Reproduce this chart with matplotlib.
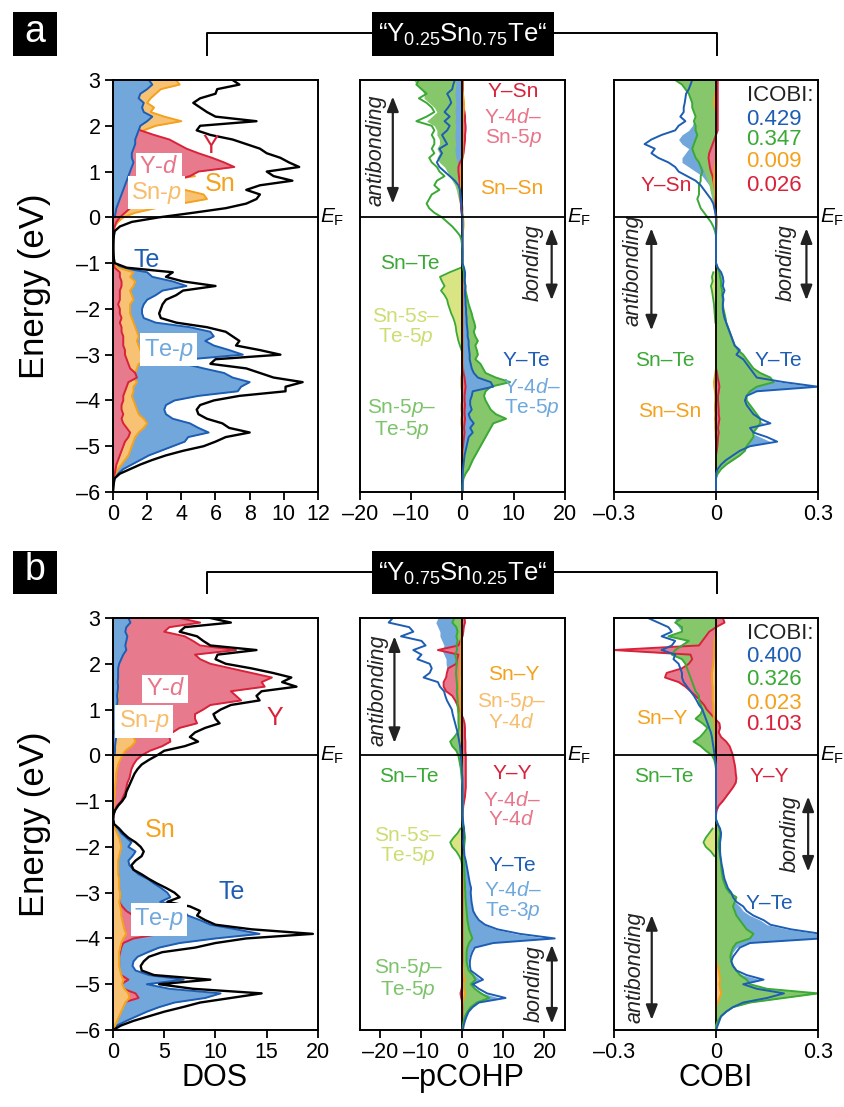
import numpy as np
import matplotlib
matplotlib.use('Agg')
import matplotlib.pyplot as plt
from matplotlib.lines import Line2D
from matplotlib.patches import Rectangle
from matplotlib import font_manager

plt.rcParams['font.family'] = ['Liberation Sans', 'DejaVu Sans']
plt.rcParams['mathtext.fontset'] = 'custom'
plt.rcParams['mathtext.rm'] = 'Liberation Sans'
plt.rcParams['mathtext.it'] = 'Liberation Sans:italic'
plt.rcParams['mathtext.bf'] = 'Liberation Sans:bold'
HAS_NARROW = 'Liberation Sans Narrow' in {f.name for f in font_manager.fontManager.ttflist}
NARROW = ['Liberation Sans Narrow', 'Liberation Sans', 'DejaVu Sans']

# energy grid (eV), 3 ... -6 in 0.1 steps
energy = np.linspace(3.0, -6.0, 91)

# ---------------- a: "Y0.25Sn0.75Te" ----------------
dos_a_total = [
    7.0, 7.4, 6.1, 6.0, 5.1, 4.7, 5.1, 5.5, 6.0, 8.4,
    5.1, 4.9, 5.7, 7.0, 7.8, 8.6, 9.0, 9.8, 10.3, 10.9,
    9.0, 9.4, 10.5, 8.6, 7.8, 8.6, 8.4, 7.8, 6.6, 4.7,
    2.7, 1.1, 0.4, 0.1, 0.05, 0.03, 0.02, 0.02, 0.03, 0.05,
    0.1, 0.8, 3.5, 3.1, 4.1, 6.0, 4.1, 3.7, 3.1, 2.9,
    2.8, 2.7, 2.8, 3.7, 5.5, 6.6, 7.0, 7.4, 7.2, 8.6,
    9.8, 6.0, 5.7, 7.8, 8.6, 9.4, 11.1, 10.1, 10.1, 7.4,
    5.9, 5.1, 4.9, 5.0, 5.5, 6.4, 6.8, 8.0, 6.6, 6.0,
    5.3, 4.1, 3.1, 2.3, 1.6, 1.0, 0.4, 0.1, 0.05, 0.02,
    0.0]
dos_a_te = [
    2.1, 2.3, 2.0, 1.6, 1.5, 1.8, 1.7, 1.8, 2.3, 2.0,
    1.6, 1.5, 1.4, 1.3, 1.3, 1.2, 1.1, 1.1, 1.2, 1.1,
    1.0, 0.9, 0.8, 0.7, 0.6, 0.5, 0.4, 0.3, 0.2, 0.15,
    0.1, 0.05, 0.03, 0.02, 0.02, 0.02, 0.02, 0.02, 0.02, 0.03,
    0.05, 0.5, 2.0, 2.3, 3.5, 4.3, 2.9, 2.5, 2.0, 1.8,
    1.7, 1.7, 1.8, 2.5, 4.5, 5.7, 5.9, 5.4, 5.9, 6.8,
    7.6, 4.5, 4.2, 5.3, 6.5, 7.0, 8.0, 7.5, 7.3, 5.0,
    3.6, 3.1, 3.0, 3.1, 3.5, 4.5, 5.0, 5.6, 4.4, 4.2,
    3.5, 2.8, 2.1, 1.6, 1.1, 0.6, 0.3, 0.1, 0.03, 0.01,
    0.0]
dos_a_sn = [
    3.7, 3.9, 2.8, 2.5, 2.2, 2.0, 2.4, 2.2, 3.0, 4.0,
    2.5, 1.8, 1.5, 1.4, 1.4, 1.5, 1.6, 1.5, 1.6, 1.7,
    2.2, 4.8, 3.0, 3.0, 4.2, 5.3, 5.5, 4.0, 2.5, 1.3,
    0.6, 0.3, 0.1, 0.03, 0.01, 0.01, 0.01, 0.01, 0.01, 0.01,
    0.02, 0.3, 1.2, 1.0, 1.3, 1.2, 1.0, 1.1, 1.2, 1.0,
    1.0, 1.0, 1.1, 1.2, 1.3, 1.4, 1.5, 1.4, 1.5, 1.6,
    1.7, 2.6, 1.5, 1.4, 1.3, 1.2, 1.4, 1.2, 1.2, 1.1,
    1.2, 1.3, 1.4, 1.5, 1.8, 2.0, 1.8, 1.5, 1.3, 1.2,
    1.1, 1.0, 0.9, 0.7, 0.5, 0.3, 0.15, 0.05, 0.02, 0.01,
    0.0]
dos_a_y = [
    1.0, 1.0, 1.0, 1.0, 1.0, 1.0, 1.0, 1.0, 1.0, 1.0,
    1.2, 1.6, 2.4, 3.3, 3.8, 4.3, 5.0, 5.8, 6.5, 7.1,
    5.0, 4.5, 3.5, 2.8, 2.3, 2.0, 1.7, 1.4, 1.0, 0.7,
    0.4, 0.2, 0.1, 0.03, 0.01, 0.01, 0.01, 0.01, 0.01, 0.01,
    0.02, 0.1, 0.4, 0.4, 0.5, 0.5, 0.4, 0.4, 0.4, 0.3,
    0.4, 0.4, 0.5, 0.4, 0.5, 0.5, 0.6, 0.6, 0.6, 0.7,
    0.7, 0.8, 0.9, 1.0, 1.3, 1.4, 0.9, 0.8, 0.7, 0.6,
    0.6, 0.5, 0.5, 0.6, 0.5, 0.6, 0.8, 1.0, 0.9, 0.7,
    0.6, 0.5, 0.4, 0.3, 0.2, 0.15, 0.1, 0.05, 0.02, 0.01,
    0.0]

cohp_a_snte = [
    -8.5, -9.0, -8.0, -7.0, -8.5, -7.0, -6.0, -5.5, -7.0, -9.0,
    -6.0, -5.5, -6.0, -5.5, -5.5, -6.0, -5.5, -6.5, -6.0, -5.0,
    -4.5, -3.5, -5.0, -5.5, -4.5, -6.0, -6.5, -7.0, -6.5, -5.5,
    -4.0, -3.0, -2.0, -1.2, -0.5, -0.2, -0.1, 0.0, 0.0, 0.0,
    0.0, 0.1, 0.3, 0.3, 0.5, 0.5, 0.6, 0.8, 1.0, 1.2,
    1.5, 1.8, 2.0, 2.3, 2.5, 2.2, 2.5, 3.0, 2.5, 2.8,
    3.0, 2.5, 3.5, 4.0, 4.5, 6.5, 9.3, 5.5, 4.5, 4.2,
    4.5, 5.0, 5.5, 6.5, 8.5, 6.0, 5.5, 5.0, 4.5, 4.0,
    3.5, 3.0, 2.5, 2.0, 1.6, 1.2, 0.6, 0.2, 0.05, 0.0,
    0.0]
cohp_a_sn5p = [
    -9.5, -9.0, -8.0, -7.5, -7.5, -6.5, -5.5, -5.0, -6.0, -7.0,
    -5.5, -5.0, -5.0, -4.5, -4.5, -5.0, -4.5, -5.0, -4.5, -3.5,
    -3.0, -2.5, -2.0, -1.5, -1.2, -1.0, -0.8, -0.6, -0.4, -0.2,
    0.0, 0.0, 0.0, 0.0, 0.0, 0.0, 0.0, 0.0, 0.0, 0.0,
    0.0, 0.1, 0.3, 0.3, 0.5, 0.5, 0.6, 0.8, 1.0, 1.2,
    1.5, 1.8, 2.0, 2.3, 2.5, 2.2, 2.5, 3.0, 2.5, 2.8,
    3.0, 2.5, 3.5, 4.0, 4.5, 6.5, 9.0, 5.5, 4.5, 4.2,
    4.5, 5.0, 5.5, 6.5, 8.3, 6.0, 5.5, 5.0, 4.5, 4.0,
    3.5, 3.0, 2.5, 2.0, 1.6, 1.2, 0.6, 0.2, 0.05, 0.0,
    0.0]
cohp_a_sn5s = [
    0, 0, 0, 0, 0, 0, 0, 0, 0, 0,
    0, 0, 0, 0, 0, 0, 0, 0, 0, 0,
    0, 0, 0, 0, 0, 0, 0, 0, 0, 0,
    0, 0, 0, 0, 0, 0, 0, 0, 0, 0,
    0.0, -0.3, -2.5, -4.4, -4.0, -3.5, -4.2, -3.5, -3.0, -2.8,
    -2.5, -2.2, -1.8, -1.5, -1.3, -1.2, -1.0, -0.8, -0.5, -0.2,
    0, 0, 0, 0, 0, 0, 0, 0, 0, 0,
    0, 0, 0, 0, 0, 0, 0, 0, 0, 0,
    0, 0, 0, 0, 0, 0, 0, 0, 0, 0,
    0]
cohp_a_yte = [
    -1.5, -1.8, -2.0, -3.0, -2.5, -2.2, -2.8, -3.5, -2.5, -3.5,
    -2.5, -3.0, -4.0, -3.5, -3.0, -4.5, -4.0, -4.5, -5.0, -4.5,
    -3.5, -2.5, -1.5, -0.8, -0.5, -0.4, -0.3, -0.2, -0.2, -0.1,
    0, 0, 0, 0, 0, 0, 0, 0, 0, 0,
    0.0, 0.3, 0.5, 0.5, 0.4, 0.6, 0.5, 0.5, 0.6, 0.6,
    0.7, 0.7, 0.8, 0.8, 0.9, 1.0, 1.0, 1.2, 1.2, 1.3,
    1.4, 1.4, 1.6, 1.8, 2.2, 3.0, 5.5, 6.0, 2.0, 1.8,
    1.5, 1.5, 1.8, 1.2, 1.5, 2.2, 1.5, 2.0, 1.2, 1.0,
    0.8, 0.6, 0.4, 0.3, 0.2, 0.1, 0.05, 0.0, 0.0, 0.0,
    0.0]
cohp_a_ytefill = [
    -1.3, -1.3, -1.4, -1.5, -1.4, -1.3, -1.4, -1.5, -1.3, -1.5,
    -1.3, -1.4, -1.5, -1.4, -1.3, -1.5, -1.4, -1.3, -1.0, -0.6,
    -0.4, -0.3, -0.2, -0.1, -0.1, -0.1, 0.0, 0.0, 0.0, 0.0,
    0, 0, 0, 0, 0, 0, 0, 0, 0, 0,
    0.0, 0.2, 0.4, 0.4, 0.3, 0.5, 0.4, 0.4, 0.5, 0.5,
    0.6, 0.6, 0.7, 0.7, 0.8, 0.9, 0.9, 1.0, 1.0, 1.1,
    1.2, 1.2, 1.4, 1.6, 2.0, 2.8, 5.2, 5.7, 1.8, 1.6,
    1.3, 1.3, 1.6, 1.0, 1.3, 2.0, 1.3, 1.8, 1.0, 0.8,
    0.6, 0.5, 0.3, 0.2, 0.1, 0.05, 0.0, 0.0, 0.0, 0.0,
    0.0]
cohp_a_ysn = [
    0.1, 0.1, 0.1, 0.1, 0.1, 0.1, 0.2, 0.4, 0.5, 0.5,
    0.6, 0.6, 0.5, 0.5, 0.4, 0.3, 0.2, 0.0, -0.5, -0.8,
    -0.8, -0.7, -0.6, -0.5, -0.5, -0.4, -0.4, -0.3, -0.3, -0.2,
    0, 0, 0, 0, 0, 0, 0, 0, 0, 0,
    0, 0, 0, 0, 0, 0, 0, 0, 0, 0,
    0, 0, 0, 0, 0, 0, 0, 0, 0, 0,
    0.0, 0.0, 0.0, 0.1, 0.2, 0.4, 0.5, 0.6, 0.5, 0.4,
    0.4, 0.5, 0.4, 0.4, 0.5, 0.4, 0.3, 0.4, 0.3, 0.2,
    0.1, 0.05, 0, 0, 0, 0, 0, 0, 0, 0,
    0]
cohp_a_snsn = [
    0.0, 0.0, 0.0, 0.1, 0.2, 0.3, 0.3, 0.2, 0.1, 0.0,
    0, 0, 0, 0, 0, 0, 0, 0, -0.1, -0.2,
    -0.3, -0.3, -0.3, -0.3, -0.2, -0.2, -0.1, -0.1, 0.0, 0.0,
    0.1, 0.2, 0.2, 0.1, 0, 0, 0, 0, 0, 0,
    0, 0, 0, 0, 0, 0, 0, 0, 0, 0,
    0, 0, 0, 0, 0, 0, 0, 0, 0, 0,
    0, 0, 0, 0, -0.1, -0.2, -0.2, -0.2, -0.1, -0.1,
    -0.1, -0.2, -0.2, -0.1, -0.2, -0.2, -0.1, -0.1, -0.1, -0.1,
    -0.1, 0, 0, 0, 0, 0, 0, 0, 0, 0,
    0]

cobi_a_snte = [
    -0.12, -0.10, -0.09, -0.08, -0.075, -0.07, -0.07, -0.065, -0.06, -0.065,
    -0.06, -0.06, -0.055, -0.06, -0.065, -0.07, -0.065, -0.06, -0.05, -0.045,
    -0.04, -0.045, -0.045, -0.05, -0.05, -0.05, -0.055, -0.05, -0.045, -0.035,
    -0.025, -0.015, -0.008, -0.003, 0, 0, 0, 0, 0, 0,
    0.0, 0.005, 0.01, 0.012, 0.015, 0.015, 0.018, 0.018, 0.02, 0.02,
    0.022, 0.025, 0.028, 0.03, 0.035, 0.04, 0.045, 0.05, 0.055, 0.065,
    0.08, 0.09, 0.10, 0.11, 0.13, 0.16, 0.17, 0.12, 0.10, 0.09,
    0.09, 0.10, 0.11, 0.12, 0.13, 0.13, 0.12, 0.11, 0.11, 0.10,
    0.09, 0.085, 0.07, 0.05, 0.03, 0.015, 0.005, 0.0, 0.0, 0.0,
    0.0]
cobi_a_sn5p = [
    -0.12, -0.10, -0.09, -0.08, -0.075, -0.07, -0.07, -0.065, -0.06, -0.065,
    -0.06, -0.06, -0.055, -0.06, -0.065, -0.07, -0.065, -0.06, -0.05, -0.04,
    -0.035, -0.03, -0.025, -0.02, -0.018, -0.015, -0.012, -0.01, -0.008, -0.005,
    0, 0, 0, 0, 0, 0, 0, 0, 0, 0,
    0.0, 0.005, 0.01, 0.012, 0.015, 0.015, 0.018, 0.018, 0.02, 0.02,
    0.022, 0.025, 0.028, 0.03, 0.035, 0.04, 0.045, 0.05, 0.055, 0.065,
    0.08, 0.09, 0.10, 0.11, 0.13, 0.16, 0.17, 0.12, 0.10, 0.09,
    0.09, 0.10, 0.11, 0.12, 0.13, 0.13, 0.12, 0.11, 0.11, 0.10,
    0.09, 0.085, 0.07, 0.05, 0.03, 0.015, 0.005, 0.0, 0.0, 0.0,
    0.0]
cobi_a_sn5s = [
    0, 0, 0, 0, 0, 0, 0, 0, 0, 0,
    0, 0, 0, 0, 0, 0, 0, 0, 0, 0,
    0, 0, 0, 0, 0, 0, 0, 0, 0, 0,
    0, 0, 0, 0, 0, 0, 0, 0, 0, 0,
    0, 0, -0.008, -0.012, -0.01, -0.015, -0.012, -0.01, -0.008, -0.006,
    -0.005, -0.004, -0.003, -0.002, 0, 0, 0, 0, 0, 0,
    0, 0, 0, 0, 0, 0, 0, 0, 0, 0,
    0, 0, 0, 0, 0, 0, 0, 0, 0, 0,
    0, 0, 0, 0, 0, 0, 0, 0, 0, 0,
    0]
cobi_a_yte = [
    -0.07, -0.075, -0.08, -0.088, -0.09, -0.092, -0.095, -0.095, -0.105, -0.09,
    -0.11, -0.12, -0.16, -0.19, -0.21, -0.18, -0.19, -0.17, -0.14, -0.12,
    -0.11, -0.085, -0.06, -0.045, -0.035, -0.025, -0.015, -0.008, -0.005, -0.002,
    0, 0, 0, 0, 0, 0, 0, 0, 0, 0,
    0.0, 0.005, 0.015, 0.02, 0.022, 0.02, 0.025, 0.02, 0.022, 0.02,
    0.02, 0.022, 0.025, 0.03, 0.035, 0.04, 0.045, 0.05, 0.055, 0.07,
    0.06, 0.08, 0.09, 0.10, 0.11, 0.12, 0.20, 0.30, 0.12, 0.09,
    0.085, 0.09, 0.10, 0.11, 0.13, 0.16, 0.10, 0.11, 0.15, 0.18,
    0.10, 0.07, 0.05, 0.03, 0.015, 0.005, 0.0, 0.0, 0.0, 0.0,
    0.0]
cobi_a_ytefill = [
    -0.06, -0.065, -0.07, -0.075, -0.075, -0.07, -0.07, -0.065, -0.06, -0.065,
    -0.07, -0.08, -0.10, -0.11, -0.10, -0.08, -0.09, -0.10, -0.10, -0.08,
    -0.06, -0.04, -0.03, -0.02, -0.015, -0.01, -0.005, 0, 0, 0,
    0, 0, 0, 0, 0, 0, 0, 0, 0, 0,
    0.0, 0.004, 0.012, 0.016, 0.018, 0.016, 0.02, 0.016, 0.018, 0.016,
    0.016, 0.018, 0.02, 0.025, 0.03, 0.034, 0.04, 0.045, 0.05, 0.06,
    0.05, 0.07, 0.08, 0.09, 0.10, 0.11, 0.19, 0.29, 0.11, 0.08,
    0.075, 0.08, 0.09, 0.10, 0.12, 0.14, 0.09, 0.10, 0.13, 0.16,
    0.09, 0.06, 0.04, 0.025, 0.01, 0.004, 0, 0, 0, 0,
    0]
cobi_a_ysn = [
    0.005, 0.005, 0.005, 0.005, 0.005, 0.005, 0.005, 0.005, 0.005, 0.005,
    0.005, 0.005, 0.0, -0.005, -0.01, -0.015, -0.02, -0.022, -0.02, -0.018,
    -0.015, -0.01, -0.008, -0.005, -0.003, -0.003, -0.003, -0.002, -0.002, -0.001,
    0, 0, 0, 0, 0, 0, 0, 0, 0, 0,
    0, 0, 0, 0, 0, 0, 0, 0, 0, 0,
    0, 0, 0, 0, 0, 0, 0, 0, 0, 0,
    0, 0, 0, 0, 0.003, 0.005, 0.008, 0.01, 0.008, 0.006,
    0.006, 0.007, 0.008, 0.008, 0.01, 0.008, 0.006, 0.008, 0.006, 0.005,
    0.004, 0.002, 0, 0, 0, 0, 0, 0, 0, 0,
    0]
cobi_a_snsn = [
    0, 0, 0, -0.003, -0.005, -0.006, -0.004, 0, 0, 0,
    0, 0, 0, 0, 0, 0, 0, 0, -0.002, -0.004,
    -0.005, -0.005, -0.006, -0.005, -0.004, -0.003, -0.002, -0.001, 0, 0,
    0.002, 0.003, 0.002, 0.001, 0, 0, 0, 0, 0, 0,
    0, 0, 0, 0, 0, 0, 0, 0, 0, 0,
    0, 0, 0, 0, 0, 0, 0, 0, 0, 0,
    0, 0, 0, 0, -0.002, -0.004, -0.006, -0.005, -0.003, -0.002,
    -0.002, -0.003, -0.003, -0.002, -0.003, -0.002, -0.002, -0.001, -0.001, 0,
    0, 0, 0, 0, 0, 0, 0, 0, 0, 0,
    0]

# ---------------- b: "Y0.75Sn0.25Te" ----------------
dos_b_total = [
    9.5, 11.5, 7.0, 6.5, 8.2, 8.8, 9.5, 14.0, 10.2, 10.0,
    11.0, 13.5, 15.6, 17.4, 16.5, 17.9, 14.5, 14.0, 14.3, 11.5,
    10.5, 9.8, 10.0, 10.4, 9.0, 8.0, 7.5, 8.3, 7.0, 5.0,
    4.3, 3.5, 2.8, 2.4, 2.1, 1.9, 1.7, 1.5, 1.3, 1.2,
    0.9, 0.5, 0.2, 0.05, 0.02, 0.1, 0.6, 1.0, 1.5, 2.2,
    2.7, 3.0, 2.8, 2.2, 1.8, 2.0, 2.8, 3.5, 4.3, 5.2,
    6.0, 6.5, 5.3, 7.5, 8.5, 8.2, 9.0, 10.0, 13.5, 19.5,
    13.0, 10.0, 8.0, 4.8, 3.5, 3.0, 2.7, 2.8, 4.0, 9.5,
    4.5, 7.8, 14.5, 11.5, 8.5, 6.8, 5.0, 3.5, 2.0, 0.8,
    0.0]
dos_b_y = [
    6.5, 8.5, 5.5, 5.0, 7.0, 7.8, 8.5, 12.0, 8.0, 8.5,
    9.5, 11.5, 13.5, 15.5, 14.5, 14.8, 11.5, 12.0, 12.5, 9.5,
    8.8, 8.0, 8.0, 8.2, 6.5, 5.8, 5.5, 5.6, 4.8, 3.6,
    2.8, 2.3, 2.0, 1.8, 1.7, 1.6, 1.4, 1.3, 1.2, 1.0,
    0.8, 0.4, 0.2, 0.05, 0.0, 0.05, 0.2, 0.3, 0.4, 0.5,
    0.5, 0.5, 0.5, 0.4, 0.4, 0.4, 0.5, 0.5, 0.5, 0.6,
    0.6, 0.7, 0.6, 0.9, 1.3, 2.0, 2.4, 2.8, 3.6, 4.6,
    2.0, 1.0, 0.8, 0.7, 0.6, 0.6, 0.6, 0.6, 0.8, 1.5,
    0.8, 1.0, 2.2, 2.5, 1.0, 0.8, 0.6, 0.4, 0.3, 0.1,
    0.0]
dos_b_te = [
    1.5, 1.7, 1.3, 1.2, 1.4, 1.3, 1.2, 1.3, 1.0, 0.8,
    0.6, 0.5, 0.5, 0.5, 0.45, 0.5, 0.45, 0.4, 0.45, 0.4,
    0.35, 0.35, 0.3, 0.3, 0.3, 0.25, 0.3, 0.25, 0.2, 0.2,
    0.15, 0.1, 0.05, 0.05, 0.05, 0.05, 0.05, 0.05, 0.05, 0.05,
    0.05, 0.03, 0.02, 0.01, 0.01, 0.1, 0.5, 0.8, 1.3, 1.8,
    1.5, 2.2, 1.9, 1.5, 1.6, 2.0, 2.5, 3.4, 4.0, 4.7,
    5.3, 5.6, 4.6, 7.0, 6.9, 7.3, 8.5, 9.5, 12.0, 14.3,
    10.0, 6.5, 4.5, 3.4, 2.4, 2.0, 1.9, 2.2, 3.5, 6.9,
    3.3, 5.5, 10.5, 9.0, 6.0, 4.5, 3.3, 2.3, 1.3, 0.4,
    0.0]
dos_b_sn = [
    1.0, 1.2, 0.8, 0.7, 0.9, 0.8, 0.7, 0.8, 0.7, 0.6,
    0.5, 0.5, 0.5, 0.5, 0.5, 0.5, 0.5, 0.5, 0.5, 0.5,
    0.5, 0.5, 0.6, 0.7, 1.0, 1.5, 2.0, 2.2, 1.8, 1.2,
    0.9, 0.7, 0.5, 0.4, 0.3, 0.3, 0.25, 0.2, 0.2, 0.15,
    0.1, 0.05, 0.02, 0.0, 0.0, 0.0, 0.2, 0.4, 0.6, 0.7,
    0.8, 0.7, 0.6, 0.5, 0.5, 0.5, 0.5, 0.6, 0.6, 0.6,
    0.7, 0.7, 0.6, 0.7, 0.8, 0.8, 0.9, 1.0, 1.1, 1.3,
    1.0, 0.8, 0.7, 0.6, 0.6, 0.6, 0.6, 0.7, 0.8, 1.0,
    0.9, 1.1, 1.5, 1.6, 1.2, 1.0, 0.8, 0.6, 0.4, 0.2,
    0.0]

cohp_b_yte = [
    -17.0, -18.0, -13.0, -12.0, -15.0, -10.0, -9.0, -12.0, -10.0, -11.0,
    -8.0, -7.5, -8.0, -9.5, -6.0, -5.5, -4.5, -4.2, -3.8, -3.2,
    -2.6, -2.4, -2.1, -1.8, -1.5, -1.2, -1.0, -0.8, -0.6, -0.5,
    -0.4, -0.3, -0.2, -0.1, -0.1, 0.0, 0.0, 0.0, 0.0, 0.0,
    0.0, 0.0, 0.0, 0.0, 0.1, 0.2, 0.4, 0.3, 0.3, 0.2,
    0.3, 0.4, 0.5, 0.8, 1.0, 1.2, 1.4, 1.6, 1.8, 2.1,
    2.0, 2.1, 2.2, 2.4, 2.6, 3.2, 4.0, 5.5, 8.5, 14.0,
    22.5, 7.5, 3.0, 2.4, 2.0, 1.8, 1.8, 2.0, 3.5, 5.0,
    2.5, 4.0, 6.0, 10.5, 4.0, 2.5, 1.5, 1.0, 0.6, 0.3,
    0.1]
cohp_b_ytefill = [
    -6.0, -6.5, -6.0, -5.5, -5.5, -5.0, -4.5, -5.0, -4.5, -4.0,
    -4.0, -3.8, -3.5, -3.6, -3.2, -3.0, -2.6, -2.4, -2.0, -1.6,
    -1.2, -1.0, -0.8, -0.6, -0.5, -0.4, -0.3, -0.2, -0.2, -0.1,
    0, 0, 0, 0, 0, 0, 0, 0, 0, 0,
    0, 0, 0, 0, 0.05, 0.1, 0.3, 0.2, 0.2, 0.1,
    0.2, 0.3, 0.4, 0.6, 0.8, 1.0, 1.2, 1.4, 1.6, 1.8,
    1.8, 1.9, 2.0, 2.2, 2.4, 3.0, 3.8, 5.2, 8.0, 13.0,
    21.0, 6.5, 2.5, 2.0, 1.6, 1.4, 1.4, 1.6, 3.0, 4.3,
    2.0, 3.3, 5.0, 9.0, 3.2, 2.0, 1.2, 0.8, 0.4, 0.2,
    0.0]
cohp_b_snte = [
    -2.0, -2.5, -1.5, -1.2, -1.5, -1.2, -1.5, -1.3, -1.8, -1.5,
    -1.4, -1.5, -1.6, -1.5, -1.4, -1.3, -1.4, -1.3, -1.2, -1.2,
    -1.1, -1.0, -1.0, -1.0, -0.9, -1.2, -2.0, -3.0, -2.5, -1.5,
    -1.0, -0.8, -0.6, -0.4, -0.3, -0.2, -0.1, 0.0, 0.0, 0.0,
    0.0, 0.0, 0.0, 0.0, 0.0, 0.1, 0.3, 0.5, 0.6, 0.5,
    0.4, 0.4, 0.3, 0.3, 0.4, 0.4, 0.5, 0.5, 0.6, 0.6,
    0.7, 0.7, 0.8, 0.9, 1.0, 1.1, 1.2, 1.4, 1.6, 2.0,
    2.4, 1.6, 1.2, 1.0, 1.0, 1.0, 1.2, 1.5, 2.5, 3.2,
    2.0, 3.0, 4.5, 6.5, 3.5, 2.0, 1.2, 0.6, 0.3, 0.1,
    0.0]
cohp_b_sn5s = [
    0, 0, 0, 0, 0, 0, 0, 0, 0, 0,
    0, 0, 0, 0, 0, 0, 0, 0, 0, 0,
    0, 0, 0, 0, 0, 0, 0, 0, 0, 0,
    0, 0, 0, 0, 0, 0, 0, 0, 0, 0,
    0, 0, 0, 0, 0, 0, -0.5, -1.2, -2.2, -3.0,
    -2.5, -1.5, -0.8, -0.3, -0.1, 0, 0, 0, 0, 0,
    0, 0, 0, 0, 0, 0, 0, 0, 0, 0,
    0, 0, 0, 0, 0, 0, 0, 0, 0, 0,
    0, 0, 0, 0, 0, 0, 0, 0, 0, 0,
    0]
cohp_b_yy = [
    0.5, 0.6, 0.3, 0.2, 0.0, -0.5, -1.0, -6.0, -1.0, -1.3,
    -1.5, -3.5, -3.8, -4.0, -4.6, -4.6, -4.0, -2.5, -1.8, -1.2,
    -0.8, -0.3, 0.2, 0.5, 0.6, 0.6, 0.6, 0.7, 0.7, 0.7,
    0.8, 0.8, 0.8, 0.8, 0.8, 0.8, 0.8, 0.8, 0.7, 0.6,
    0.4, 0.2, 0.1, 0, 0, 0, 0, 0, 0, 0,
    0, 0, 0, 0, 0, 0, 0, 0, 0, 0,
    0, 0, 0, 0, 0, 0, 0, 0, 0, 0,
    0, 0, 0, 0, 0, 0, 0, 0, 0, 0,
    0.0, -0.2, -0.5, -0.3, 0, 0, 0, 0, 0, 0,
    0]
cohp_b_sny = [
    -0.2, -0.3, -0.2, -0.2, -0.3, -0.3, -0.3, -0.4, -0.4, -0.5,
    -0.5, -0.6, -0.6, -0.7, -0.7, -0.7, -0.6, -0.6, -0.6, -0.5,
    -0.5, -0.5, -0.5, -0.4, -0.4, -0.4, -0.3, -0.3, -0.2, -0.1,
    0, 0, 0, 0, 0, 0, 0, 0, 0, 0,
    0, 0, 0, 0, 0, 0, 0, 0, 0, 0,
    0, 0, 0, 0, 0, 0, 0, 0, 0, 0,
    0, 0, 0, 0, 0, 0, 0, 0, 0, 0,
    0, 0, 0, 0, 0, 0, 0.1, 0.2, 0.3, 0.5,
    0.3, 0.4, 0.6, 0.4, 0.1, 0, 0, 0, 0, 0,
    0]

cobi_b_yte = [
    -0.20, -0.17, -0.14, -0.13, -0.16, -0.12, -0.13, -0.16, -0.12, -0.125,
    -0.11, -0.105, -0.10, -0.10, -0.095, -0.085, -0.075, -0.065, -0.057, -0.05,
    -0.04, -0.035, -0.03, -0.025, -0.02, -0.015, -0.012, -0.01, -0.008, -0.006,
    -0.004, -0.002, 0, 0, 0, 0, 0, 0, 0, 0,
    0, 0, 0, 0, 0, 0.005, 0.012, 0.015, 0.014, 0.012,
    0.012, 0.012, 0.013, 0.015, 0.017, 0.02, 0.022, 0.025, 0.03, 0.035,
    0.045, 0.05, 0.06, 0.08, 0.09, 0.11, 0.14, 0.16, 0.22, 0.31,
    0.31, 0.10, 0.07, 0.06, 0.05, 0.045, 0.05, 0.06, 0.09, 0.14,
    0.08, 0.12, 0.20, 0.15, 0.08, 0.05, 0.03, 0.015, 0.01, 0.005,
    0.0]
cobi_b_ytefill = [
    -0.12, -0.12, -0.11, -0.10, -0.11, -0.09, -0.09, -0.10, -0.09, -0.09,
    -0.08, -0.075, -0.07, -0.07, -0.065, -0.06, -0.055, -0.05, -0.045, -0.04,
    -0.03, -0.025, -0.02, -0.018, -0.015, -0.012, -0.01, -0.008, -0.006, -0.004,
    0, 0, 0, 0, 0, 0, 0, 0, 0, 0,
    0, 0, 0, 0, 0, 0.004, 0.01, 0.012, 0.011, 0.01,
    0.01, 0.01, 0.011, 0.013, 0.015, 0.017, 0.019, 0.022, 0.026, 0.03,
    0.04, 0.045, 0.055, 0.07, 0.08, 0.10, 0.13, 0.15, 0.21, 0.30,
    0.30, 0.09, 0.06, 0.05, 0.045, 0.04, 0.045, 0.055, 0.08, 0.13,
    0.07, 0.11, 0.19, 0.14, 0.07, 0.04, 0.025, 0.012, 0.008, 0.004,
    0.0]
cobi_b_snte = [
    -0.10, -0.12, -0.10, -0.10, -0.14, -0.08, -0.10, -0.12, -0.13, -0.10,
    -0.09, -0.085, -0.08, -0.075, -0.07, -0.065, -0.06, -0.05, -0.05, -0.045,
    -0.04, -0.045, -0.06, -0.04, -0.025, -0.035, -0.047, -0.066, -0.045, -0.03,
    -0.012, -0.005, -0.002, 0, 0, 0, 0, 0, 0, 0,
    0, 0, 0, 0, 0, 0.005, 0.01, 0.012, 0.01, 0.008,
    0.008, 0.01, 0.012, 0.014, 0.015, 0.016, 0.018, 0.02, 0.025, 0.03,
    0.04, 0.06, 0.055, 0.05, 0.055, 0.06, 0.07, 0.08, 0.09, 0.11,
    0.10, 0.06, 0.05, 0.045, 0.042, 0.045, 0.05, 0.06, 0.07, 0.09,
    0.10, 0.15, 0.30, 0.20, 0.10, 0.05, 0.03, 0.015, 0.005, 0.0,
    0.0]
cobi_b_sn5s = [
    0, 0, 0, 0, 0, 0, 0, 0, 0, 0,
    0, 0, 0, 0, 0, 0, 0, 0, 0, 0,
    0, 0, 0, 0, 0, 0, 0, 0, 0, 0,
    0, 0, 0, 0, 0, 0, 0, 0, 0, 0,
    0, 0, 0, 0, 0, 0, -0.01, -0.02, -0.03, -0.037,
    -0.03, -0.015, -0.005, 0, 0, 0, 0, 0, 0, 0,
    0, 0, 0, 0, 0, 0, 0, 0, 0, 0,
    0, 0, 0, 0, 0, 0, 0, 0, 0, 0,
    0, 0, 0, 0, 0, 0, 0, 0, 0, 0,
    0]
cobi_b_yy = [
    0.02, 0.025, 0.0, -0.02, -0.03, -0.04, -0.05, -0.30, -0.075, -0.07,
    -0.08, -0.10, -0.145, -0.15, -0.11, -0.09, -0.075, -0.06, -0.047, -0.035,
    -0.027, -0.015, -0.003, 0.01, 0.012, 0.008, 0.015, 0.03, 0.04, 0.045,
    0.05, 0.052, 0.055, 0.057, 0.058, 0.06, 0.058, 0.05, 0.04, 0.03,
    0.02, 0.008, 0.002, 0, 0, 0, 0, 0, 0, 0,
    0, 0, 0, 0, 0, 0, 0, 0, 0, 0,
    0, 0, 0, 0, 0, 0, 0, 0, 0, 0,
    0, 0, 0, 0, 0, 0, 0, 0, 0, 0,
    0, 0, 0, 0, 0, 0, 0, 0, 0, 0,
    0]
cobi_b_sny = [
    0, 0, 0, 0, -0.003, -0.005, -0.005, -0.006, -0.006, -0.007,
    -0.008, -0.01, -0.012, -0.012, -0.012, -0.01, -0.01, -0.01, -0.01, -0.008,
    -0.008, -0.007, -0.006, -0.005, -0.004, -0.003, -0.003, -0.002, -0.001, 0,
    0, 0, 0, 0, 0, 0, 0, 0, 0, 0,
    0, 0, 0, 0, 0, 0, 0, 0, 0, 0,
    0, 0, 0, 0, 0, 0, 0, 0, 0, 0,
    0, 0, 0, 0, 0, 0, 0, 0, 0, 0,
    0, 0, 0, 0, 0, 0, 0.005, 0.008, 0.01, 0.012,
    0.01, 0.012, 0.015, 0.01, 0.005, 0, 0, 0, 0, 0,
    0]

icobi_a = ['0.429', '0.347', '0.009', '0.026']
icobi_b = ['0.400', '0.326', '0.023', '0.103']

for _name, _arr in list(globals().items()):
    if _name.startswith(('dos_', 'cohp_', 'cobi_')) and len(_arr) != len(energy):
        raise ValueError(f'{_name} has {len(_arr)} points')

# colours
BLUE, BLUE_F = '#1d5db3', '#72a7dc'
RED, PINK = '#d8223a', '#e77a8d'
ORANGE, ORANGE_F = '#f4a11c', '#f8c274'
GREEN, GREEN_F = '#3aa935', '#86c76c'
YELLOW_F = '#d9e482'
LBL_PINK, LBL_LBLUE, LBL_LGREEN, LBL_YEL, LBL_LOR = '#e8758a', '#6fa8dc', '#7cc36a', '#cddd72', '#f8bd6c'
INK = '#222222'
DASH = '\u2013'
LBL = 15

W, H = 845, 1107
fig = plt.figure(figsize=(W / 100, H / 100), dpi=100)


def box(left, top, right, bottom):
    return [left / W, 1 - bottom / H, (right - left) / W, (bottom - top) / H]


def style_axis(ax, xlim, xticks, ylabels):
    ax.set_xlim(*xlim)
    ax.set_ylim(-6, 3)
    ax.set_xticks(xticks)
    ax.set_xticklabels([f'{t:g}'.replace('-', DASH) for t in xticks], fontfamily=NARROW, fontsize=15.5)
    if ylabels:
        yt = list(range(3, -7, -1))
        ax.set_yticks(yt)
        ax.set_yticklabels([str(t).replace('-', DASH) for t in yt], fontfamily=NARROW, fontsize=15.5)
    else:
        ax.set_yticks([])
    ax.tick_params(direction='out', length=6, width=1.3, pad=3)
    for s in ax.spines.values():
        s.set_linewidth(1.4)
        s.set_zorder(6)
    ax.axhline(0, color='k', lw=1.3, zorder=5)
    ax.text(1.012, 0, r'$E_{\mathrm{F}}$', transform=ax.get_yaxis_transform(),
            ha='left', va='center', fontsize=15, clip_on=False)


def draw_dos(ax, species, total):
    # in each half, draw the bigger projections first so the smaller ones stay visible
    for mask in (energy >= 0, energy <= 0):
        order = sorted(species, key=lambda s: -np.mean(s[0][mask]))
        for vals, lc, fc in order:
            ax.fill_betweenx(energy, 0, vals, where=mask, color=fc, lw=0, zorder=1)
            ax.plot(np.where(mask, vals, np.nan), energy, color=lc, lw=1.4, zorder=1)
    ax.plot(total, energy, color='k', lw=1.7, zorder=2)


def draw_bonds(ax, fills, lobe, minor, major):
    for vals, fc in fills:
        ax.fill_betweenx(energy, 0, vals, color=fc, lw=0, zorder=1)
    ax.plot(np.ma.masked_equal(lobe, 0), energy, color=GREEN, lw=1.3, zorder=1.5)
    for vals, lc in minor:
        ax.plot(vals, energy, color=lc, lw=1.4, zorder=2)
    ax.axvline(0, color='k', lw=1.3, zorder=2.5)
    for vals, lc in major:
        ax.plot(vals, energy, color=lc, lw=1.4, zorder=3)


def arrow(ax, x, y1, y2):
    ax.annotate('', xy=(x, y1), xytext=(x, y2),
                arrowprops=dict(arrowstyle='<|-|>,head_length=0.9,head_width=0.35',
                                color=INK, lw=1.6, shrinkA=0, shrinkB=0))


def label(ax, x, y, s, color, size=LBL, **kw):
    ax.text(x, y, s, color=color, fontsize=size, ha='center', va='center', linespacing=1.0, **kw)


def boxed(ax, x, y, s, color):
    ax.text(x, y, s, color=color, fontsize=17, ha='center', va='center', zorder=6,
            bbox=dict(boxstyle='square,pad=0.14', fc='white', ec='none'))


def header(top, bottom, letter, title):
    mid = (top + bottom) / 2
    fig.add_artist(Rectangle((13 / W, 1 - bottom / H), 44 / W, (bottom - top) / H,
                             transform=fig.transFigure, fc='k', ec='none'))
    fig.text(35 / W, 1 - (mid - 2) / H, letter, color='w', fontsize=27, ha='center', va='center')
    ys = np.array([bottom - 1, mid - 1, mid - 1, bottom - 1])
    xs = np.array([207, 207, 717, 717])
    fig.add_artist(Line2D(xs / W, 1 - ys / H, color='k', lw=1.4))
    fig.add_artist(Rectangle((372 / W, 1 - bottom / H), 182 / W, (bottom - top) / H,
                             transform=fig.transFigure, fc='k', ec='none', zorder=3))
    fig.text(463 / W, 1 - (mid + 1) / H, title, color='w', fontsize=21 if HAS_NARROW else 18.5,
             family=NARROW if HAS_NARROW else None, ha='center', va='center', zorder=4)


rows = [
    dict(top=80, bottom=492, htop=12, hbot=56, letter='a', title=r'“Y$_{0.25}$Sn$_{0.75}$Te“'),
    dict(top=618, bottom=1030, htop=551, hbot=594, letter='b', title=r'“Y$_{0.75}$Sn$_{0.25}$Te“'),
]

for i, row in enumerate(rows):
    t, b = row['top'], row['bottom']
    header(row['htop'], row['hbot'], row['letter'], row['title'])
    fig.text(35 / W, 1 - (t + b) / 2 / H, 'Energy (eV)', rotation=90, fontsize=25, ha='center', va='center')
    ax_d = fig.add_axes(box(113, t, 318, b))
    ax_c = fig.add_axes(box(360, t, 565, b))
    ax_o = fig.add_axes(box(614, t, 818, b))

    if i == 0:
        draw_dos(ax_d, [(np.array(dos_a_te), BLUE, BLUE_F), (np.array(dos_a_sn), ORANGE, ORANGE_F),
                        (np.array(dos_a_y), RED, PINK)], dos_a_total)
        style_axis(ax_d, (0, 12), [0, 2, 4, 6, 8, 10, 12], True)
        boxed(ax_d, 2.7, 1.1, r'Y-$d$', LBL_PINK)
        boxed(ax_d, 2.55, 0.54, r'Sn-$p$', LBL_LOR)
        boxed(ax_d, 3.25, -2.89, r'Te-$p$', LBL_LBLUE)
        label(ax_d, 5.75, 1.55, 'Y', RED, 18)
        label(ax_d, 6.3, 0.72, 'Sn', ORANGE, 18)
        label(ax_d, 1.95, -0.94, 'Te', BLUE, 18)

        draw_bonds(ax_c,
                   [(cohp_a_sn5p, GREEN_F), (cohp_a_sn5s, YELLOW_F), (cohp_a_ytefill, BLUE_F),
                    (cohp_a_ysn, PINK), (cohp_a_snsn, ORANGE_F)],
                   cohp_a_sn5s,
                   [(cohp_a_ysn, RED), (cohp_a_snsn, ORANGE)],
                   [(cohp_a_snte, GREEN), (cohp_a_yte, BLUE)])
        style_axis(ax_c, (-20, 20), [-20, -10, 0, 10, 20], False)
        label(ax_c, -16.8, 1.47, 'antibonding', INK, 15.5, rotation=90, style='italic')
        arrow(ax_c, -13.6, 2.64, 0.3)
        label(ax_c, 13.8, -1.0, 'bonding', INK, 15.5, rotation=90, style='italic')
        arrow(ax_c, 17.4, -0.24, -1.81)
        label(ax_c, 9.9, 2.74, f'Y{DASH}Sn', RED)
        label(ax_c, 9.9, 1.93, f'Y-4$d${DASH}\nSn-5$p$', LBL_PINK)
        label(ax_c, 9.6, 0.63, f'Sn{DASH}Sn', ORANGE)
        label(ax_c, -10.3, -1.0, f'Sn{DASH}Te', GREEN)
        label(ax_c, -11.0, -2.4, f'Sn-5$s${DASH}\nTe-5$p$', LBL_YEL)
        label(ax_c, 12.5, -3.13, f'Y{DASH}Te', BLUE)
        label(ax_c, 13.5, -3.95, f'Y-4$d${DASH}\nTe-5$p$', LBL_LBLUE)
        label(ax_c, -11.9, -4.4, f'Sn-5$p${DASH}\nTe-5$p$', LBL_LGREEN)

        draw_bonds(ax_o,
                   [(cobi_a_ytefill, BLUE_F), (cobi_a_sn5p, GREEN_F), (cobi_a_sn5s, YELLOW_F),
                    (cobi_a_ysn, PINK), (cobi_a_snsn, ORANGE_F)],
                   cobi_a_sn5s,
                   [(cobi_a_ysn, RED), (cobi_a_snsn, ORANGE)],
                   [(cobi_a_snte, GREEN), (cobi_a_yte, BLUE)])
        style_axis(ax_o, (-0.3, 0.3), [-0.3, 0, 0.3], False)
        label(ax_o, -0.243, -1.15, 'antibonding', INK, 15.5, rotation=90, style='italic')
        arrow(ax_o, -0.19, -0.24, -2.47)
        label(ax_o, 0.207, -1.0, 'bonding', INK, 15.5, rotation=90, style='italic')
        arrow(ax_o, 0.266, -0.24, -1.81)
        label(ax_o, -0.145, 0.70, f'Y{DASH}Sn', RED)
        label(ax_o, -0.15, -3.12, f'Sn{DASH}Te', GREEN)
        label(ax_o, 0.183, -3.12, f'Y{DASH}Te', BLUE)
        label(ax_o, -0.135, -4.25, f'Sn{DASH}Sn', ORANGE)
        icobi, icobi_y = icobi_a, [2.13, 1.69, 1.21, 0.70]
    else:
        draw_dos(ax_d, [(np.array(dos_b_te), BLUE, BLUE_F), (np.array(dos_b_sn), ORANGE, ORANGE_F),
                        (np.array(dos_b_y), RED, PINK)], dos_b_total)
        style_axis(ax_d, (0, 20), [0, 5, 10, 15, 20], True)
        boxed(ax_d, 5.1, 1.45, r'Y-$d$', LBL_PINK)
        boxed(ax_d, 3.05, 0.74, r'Sn-$p$', LBL_LOR)
        boxed(ax_d, 4.5, -3.58, r'Te-$p$', LBL_LBLUE)
        label(ax_d, 15.8, 0.81, 'Y', RED, 18)
        label(ax_d, 4.6, -1.63, 'Sn', ORANGE, 18)
        label(ax_d, 11.6, -2.98, 'Te', BLUE, 18)

        draw_bonds(ax_c,
                   [(cohp_b_ytefill, BLUE_F), (cohp_b_snte, GREEN_F), (cohp_b_sn5s, YELLOW_F),
                    (cohp_b_yy, PINK), (cohp_b_sny, ORANGE_F)],
                   cohp_b_sn5s,
                   [(cohp_b_yy, RED), (cohp_b_sny, ORANGE)],
                   [(cohp_b_snte, GREEN), (cohp_b_yte, BLUE)])
        style_axis(ax_c, (-25, 25), [-20, -10, 0, 10, 20], False)
        label(ax_c, -20.6, 1.43, 'antibonding', INK, 15.5, rotation=90, style='italic')
        arrow(ax_c, -16.6, 2.6, 0.27)
        label(ax_c, 17.4, -4.98, 'bonding', INK, 15.5, rotation=90, style='italic')
        arrow(ax_c, 21.8, -4.14, -5.86)
        label(ax_c, 12.6, 1.76, f'Sn{DASH}Y', ORANGE)
        label(ax_c, 12.0, 0.95, f'Sn-5$p${DASH}\nY-4$d$', LBL_LOR)
        label(ax_c, -13.0, -0.46, f'Sn{DASH}Te', GREEN)
        label(ax_c, 12.2, -0.4, f'Y{DASH}Y', RED)
        label(ax_c, 12.0, -1.2, f'Y-4$d${DASH}\nY-4$d$', LBL_PINK)
        label(ax_c, -13.2, -1.99, f'Sn-5$s${DASH}\nTe-5$p$', LBL_YEL)
        label(ax_c, 12.2, -2.4, f'Y{DASH}Te', BLUE)
        label(ax_c, 12.4, -3.2, f'Y-4$d${DASH}\nTe-3$p$', LBL_LBLUE)
        label(ax_c, -13.2, -4.89, f'Sn-5$p${DASH}\nTe-5$p$', LBL_LGREEN)

        draw_bonds(ax_o,
                   [(cobi_b_ytefill, BLUE_F), (cobi_b_snte, GREEN_F), (cobi_b_sn5s, YELLOW_F),
                    (cobi_b_yy, PINK), (cobi_b_sny, ORANGE_F)],
                   cobi_b_sn5s,
                   [(cobi_b_yy, RED), (cobi_b_sny, ORANGE)],
                   [(cobi_b_snte, GREEN), (cobi_b_yte, BLUE)])
        style_axis(ax_o, (-0.3, 0.3), [-0.3, 0, 0.3], False)
        label(ax_o, 0.217, -1.7, 'bonding', INK, 15.5, rotation=90, style='italic')
        arrow(ax_o, 0.271, -0.9, -2.54)
        label(ax_o, -0.238, -4.62, 'antibonding', INK, 15.5, rotation=90, style='italic')
        arrow(ax_o, -0.189, -3.49, -5.78)
        label(ax_o, -0.16, 0.81, f'Sn{DASH}Y', ORANGE)
        label(ax_o, -0.155, -0.46, f'Sn{DASH}Te', GREEN)
        label(ax_o, 0.158, -0.46, f'Y{DASH}Y', RED)
        label(ax_o, 0.158, -3.23, f'Y{DASH}Te', BLUE)
        icobi, icobi_y = icobi_b, [2.16, 1.65, 1.14, 0.67]

    ax_o.text(0.09, 2.67, 'ICOBI:', color=INK, fontsize=16, ha='left', va='center')
    for txt, yy, col in zip(icobi, icobi_y, [BLUE, GREEN, ORANGE, RED]):
        ax_o.text(0.09, yy, txt, color=col, fontsize=16, ha='left', va='center')

fig.text(215 / W, 1 - 1078 / H, 'DOS', fontsize=22, ha='center', va='center')
fig.text(463 / W, 1 - 1078 / H, f'{DASH}pCOHP', fontsize=22, ha='center', va='center')
fig.text(716 / W, 1 - 1078 / H, 'COBI', fontsize=22, ha='center', va='center')

fig.savefig('out.png', dpi=100)
